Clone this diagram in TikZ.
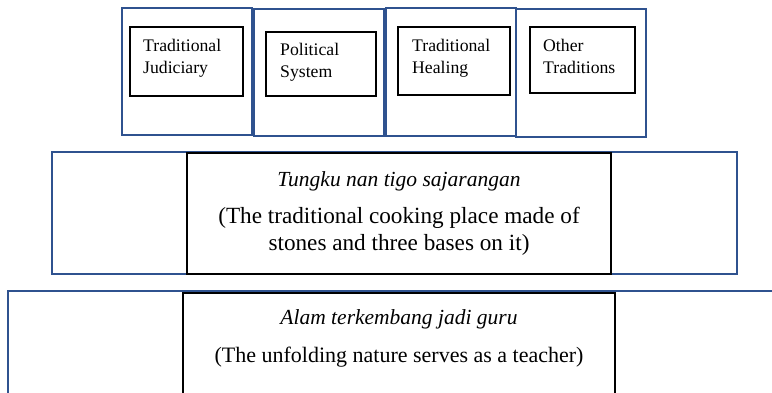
\documentclass[tikz,border=0pt]{standalone}
\usepackage{fontspec}
\setmainfont{Liberation Serif}
\definecolor{frameblue}{RGB}{47,82,143}
\tikzset{
  bluebox/.style={draw=frameblue, line width=1.9pt, inner sep=0pt},
  blackbox/.style={draw=black, line width=1.3pt, inner sep=0pt, fill=white},
  smalltxt/.style={anchor=base west, inner sep=0pt, font=\fontsize{17.7}{21}\selectfont},
  bigtxt/.style={anchor=base, inner sep=0pt, font=\fontsize{22.5}{27}\selectfont},
}
\begin{document}
\begin{tikzpicture}[x=1pt,y=-1pt]
\useasboundingbox (0,0) rectangle (772,393);
\clip (0,0) rectangle (772,393);
% top boxes
\node[bluebox, minimum width=130pt, minimum height=127pt] (b1) at (187,71.5) {};
\node[bluebox, minimum width=130pt, minimum height=127pt] (b2) at (319,72.5) {};
\node[bluebox, minimum width=130pt, minimum height=128pt] (b3) at (451,72) {};
\node[bluebox, minimum width=130pt, minimum height=128pt] (b4) at (581,73) {};
\node[blackbox, minimum width=113pt, minimum height=69pt] (i1) at (186.5,61.5) {};
\node[blackbox, minimum width=110pt, minimum height=64pt] (i2) at (321,64) {};
\node[blackbox, minimum width=112pt, minimum height=68pt] (i3) at (454,61) {};
\node[blackbox, minimum width=105pt, minimum height=66pt] (i4) at (582.5,60) {};
\node[smalltxt] (t1a) at (143,52) {Traditional};
\node[smalltxt] (t1b) at (143,74) {Judiciary};
\node[smalltxt] (t2a) at (280,56) {Political};
\node[smalltxt] (t2b) at (280,78) {System};
\node[smalltxt] (t3a) at (412,52) {Traditional};
\node[smalltxt] (t3b) at (412,74) {Healing};
\node[smalltxt] (t4a) at (543,52) {Other};
\node[smalltxt] (t4b) at (543,74) {Traditions};
% middle
\node[bluebox, minimum width=685pt, minimum height=122pt] (mb) at (394.5,213) {};
\node[blackbox, minimum width=424pt, minimum height=121pt] (mk) at (399,213.5) {};
\node[bigtxt, font=\fontsize{21.5}{26}\selectfont\itshape] (m1) at (399,187) {Tungku nan tigo sajarangan};
\node[bigtxt, font=\fontsize{23.2}{28}\selectfont] (m2) at (399,224) {(The traditional cooking place made of};
\node[bigtxt, font=\fontsize{23.2}{28}\selectfont] (m3) at (399,251) {stones and three bases on it)};
% bottom
\node[bluebox, minimum width=782pt, minimum height=129pt] (lb) at (399,355.5) {};
\node[blackbox, minimum width=432pt, minimum height=127pt] (lk) at (399,356.5) {};
\node[bigtxt, font=\fontsize{21.5}{26}\selectfont\itshape] (l1) at (399,324) {Alam terkembang jadi guru};
\node[bigtxt, font=\fontsize{22}{27}\selectfont] (l2) at (399,362) {(The unfolding nature serves as a teacher)};
\end{tikzpicture}
\end{document}
